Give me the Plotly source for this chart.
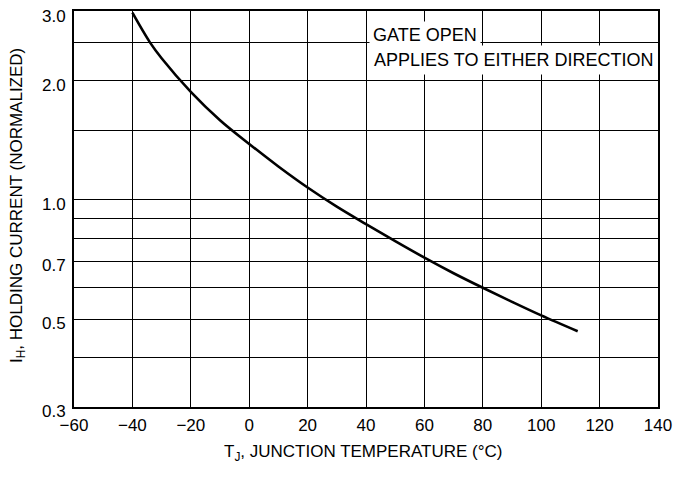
import plotly.graph_objects as go

# Data
temperature_c = [-40, -34, -30, -20, -10, 0, 10, 20, 30, 40, 50, 60, 70, 80, 90, 100, 112.5]
holding_current = [2.97, 2.50, 2.28, 1.875, 1.59, 1.385, 1.215, 1.075, 0.962, 0.869, 0.787,
                   0.715, 0.653, 0.600, 0.553, 0.511, 0.466]

x_ticks = [-60, -40, -20, 0, 20, 40, 60, 80, 100, 120, 140]
y_grid_vals = [0.3, 0.4, 0.5, 0.6, 0.7, 0.8, 0.9, 1.0, 1.5, 2.0, 2.5, 3.0]
# the top label (3.0) sits just under the top edge in the reference, drawn separately below
y_grid_text = ["0.3", "", "0.5", "", "0.7", "", "", "1.0", "", "2.0", "", ""]
y_top_label = "3.0"

FONT = "Liberation Sans, Arial, Helvetica, sans-serif"

fig = go.Figure()
fig.add_trace(go.Scatter(
    x=temperature_c, y=holding_current, mode="lines",
    line=dict(color="black", width=2.6, shape="spline", smoothing=1.0),
    hoverinfo="skip", showlegend=False,
))

fig.update_layout(
    width=679, height=479,
    margin=dict(l=66, r=29, t=3, b=80, autoexpand=False),
    paper_bgcolor="white", plot_bgcolor="white",
    font=dict(family=FONT, size=17, color="black"),
    showlegend=False,
    xaxis=dict(
        range=[-60, 140], tickmode="array", tickvals=x_ticks,
        showgrid=True, gridcolor="black", gridwidth=1.3,
        showline=True, linecolor="black", linewidth=1.8, mirror=True,
        ticks="", ticklabelstandoff=2, zeroline=False,
        ticklabeloverflow="allow",
        tickfont=dict(family=FONT, size=17, color="black"),
    ),
    yaxis=dict(
        type="log", range=[-0.5228787, 0.4771213],
        tickmode="array", tickvals=y_grid_vals, ticktext=y_grid_text,
        showgrid=True, gridcolor="black", gridwidth=1.3,
        showline=True, linecolor="black", linewidth=1.8, mirror=True,
        ticks="", ticklabelstandoff=3, ticklabelshift=4, zeroline=False,
        ticklabeloverflow="allow",
        tickfont=dict(family=FONT, size=17, color="black"),
    ),
    annotations=[
        dict(text=y_top_label, xref="paper", yref="paper", x=-0.012, y=0.987,
             xanchor="right", yanchor="middle", showarrow=False, borderpad=0,
             font=dict(family=FONT, size=17, color="black")),
        dict(text="GATE OPEN", xref="paper", yref="paper", x=0.505, y=0.939,
             xanchor="left", yanchor="middle", showarrow=False,
             bgcolor="white", borderpad=3,
             font=dict(family=FONT, size=18, color="black")),
        dict(text="APPLIES TO EITHER DIRECTION", xref="paper", yref="paper",
             x=0.505, y=0.877, xanchor="left", yanchor="middle", showarrow=False,
             bgcolor="white", borderpad=4,
             font=dict(family=FONT, size=18, color="black")),
        dict(text="T<sub>J</sub>, JUNCTION TEMPERATURE (°C)", xref="paper", yref="paper",
             x=0.495, y=-0.116, xanchor="center", yanchor="middle", showarrow=False,
             font=dict(family=FONT, size=17, color="black")),
        dict(text="I<sub>H</sub>, HOLDING CURRENT (NORMALIZED)", xref="paper", yref="paper",
             x=-0.096, y=0.51, xanchor="center", yanchor="middle", showarrow=False,
             textangle=-90,
             font=dict(family=FONT, size=17, color="black")),
    ],
)

fig.write_html("out.html")
